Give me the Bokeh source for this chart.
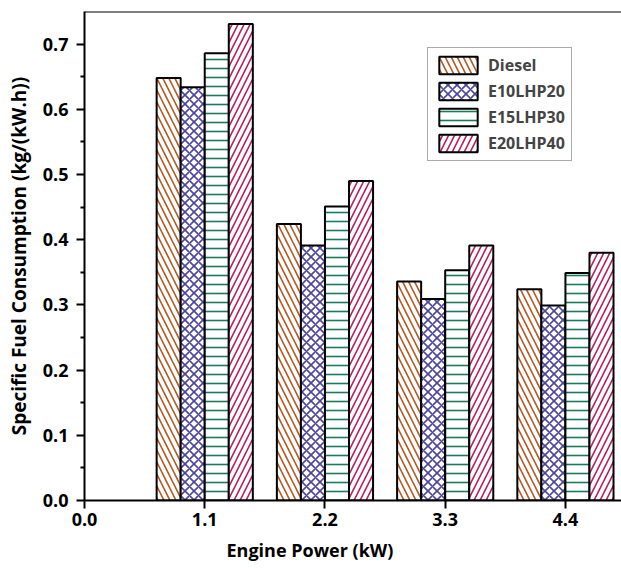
import numpy as np
from bokeh.plotting import figure
from bokeh.models import FixedTicker, Span, Legend, LegendItem, NumeralTickFormatter, Title
from bokeh.embed import file_html
from bokeh.resources import INLINE

# ---- data ----
powers = [1.1, 2.2, 3.3, 4.4]
diesel = [0.648, 0.424, 0.336, 0.324]
e10lhp20 = [0.634, 0.391, 0.309, 0.299]
e15lhp30 = [0.686, 0.451, 0.353, 0.349]
e20lhp40 = [0.731, 0.490, 0.391, 0.380]
series_names = ["Diesel", "E10LHP20", "E15LHP30", "E20LHP40"]
x_ticks = [0.0, 1.1, 2.2, 3.3, 4.4]
y_ticks = [0.0, 0.1, 0.2, 0.3, 0.4, 0.5, 0.6, 0.7]
y_minor = [0.05, 0.15, 0.25, 0.35, 0.45, 0.55, 0.65]
x_title = "Engine Power (kW)"
y_title = "Specific Fuel Consumption (kg/(kW.h))"

series = [diesel, e10lhp20, e15lhp30, e20lhp40]
colors = ["#b5561e", "#4b45a0", "#1a7a5c", "#b81a60"]
hatches = ["\\", "x", "-", "/"]
hscales = [12, 9, 9, 12]
offsets = [-0.33, -0.11, 0.11, 0.33]
bar_w = 0.22

FONT = "Open Sans"

p = figure(width=621, height=568, x_range=(0, 4.913), y_range=(0, 0.75),
           output_backend="svg", toolbar_location=None,
           min_border_left=84, min_border_right=0, min_border_top=11,
           min_border_bottom=67)
p.outline_line_color = None
p.xgrid.grid_line_color = None
p.ygrid.grid_line_color = None

items = []
for name, vals, c, h, hs, off in zip(series_names, series, colors, hatches, hscales, offsets):
    xs = np.array(powers) + off
    r = p.vbar(x=xs, top=vals, width=bar_w, fill_color="white",
               line_color="black", line_width=2,
               hatch_pattern=h, hatch_color=c, hatch_scale=hs, hatch_weight=1.6)
    items.append(LegendItem(label=name, renderers=[r]))

p.add_layout(Span(location=0.75, dimension="width", line_color="black", line_width=2))

p.xaxis.ticker = FixedTicker(ticks=x_ticks, minor_ticks=[])
p.yaxis.ticker = FixedTicker(ticks=y_ticks, minor_ticks=y_minor)
p.xaxis.formatter = NumeralTickFormatter(format="0.0")
p.yaxis.formatter = NumeralTickFormatter(format="0.0")

for ax in (p.xaxis, p.yaxis):
    ax.axis_line_width = 2
    ax.major_tick_line_width = 2
    ax.minor_tick_line_width = 2
    ax.major_tick_in = 0
    ax.major_tick_out = 8
    ax.minor_tick_in = 0
    ax.minor_tick_out = 4
    ax.major_label_text_font = FONT
    ax.major_label_text_font_style = "bold"
    ax.major_label_text_font_size = "18px"
    ax.major_label_text_color = "black"
    ax.axis_label_text_font = FONT
    ax.axis_label_text_font_style = "bold"
    ax.axis_label_text_color = "black"

p.yaxis.axis_label = y_title
p.yaxis.axis_label_text_font_size = "19px"
p.xaxis.major_label_standoff = 4
p.yaxis.major_label_standoff = 8
p.yaxis.axis_label_standoff = 8

# x-axis title, placed as in the reference (left of frame centre)
p.add_layout(Title(text=x_title, align="left", offset=142, standoff=14,
                   text_font=FONT, text_font_style="bold",
                   text_font_size="18px", text_color="black"), "below")

legend = Legend(items=items, location=(343, 339))
legend.label_text_font = FONT
legend.label_text_font_style = "bold"
legend.label_text_font_size = "16px"
legend.glyph_width = 48
legend.glyph_height = 22
legend.spacing = 4
legend.padding = 6
legend.margin = 0
legend.label_standoff = 6
legend.border_line_color = "#555555"
legend.border_line_width = 1
legend.background_fill_alpha = 1
p.add_layout(legend)

open("out.html", "w").write(file_html(p, INLINE))
